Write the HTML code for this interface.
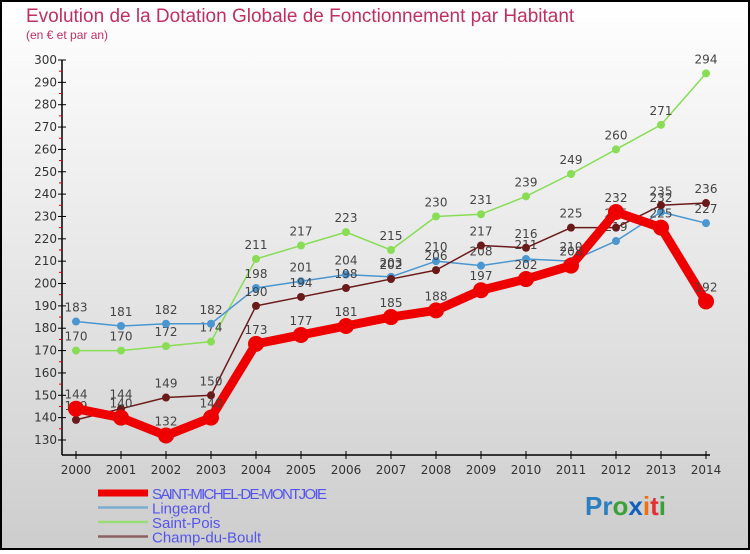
<!DOCTYPE html>
<html><head><meta charset="utf-8"><style>
html,body{margin:0;padding:0}
body{width:750px;height:550px;overflow:hidden;font-family:"DejaVu Sans","Liberation Sans",sans-serif}
</style></head><body>
<svg id="chart" width="750" height="550" xmlns="http://www.w3.org/2000/svg">
<defs><linearGradient id="bg" x1="0" y1="0" x2="0" y2="1"><stop offset="0" stop-color="#ffffff"/><stop offset="1" stop-color="#cdcdcd"/></linearGradient></defs>
<rect x="1" y="1" width="748" height="548" fill="url(#bg)" stroke="#000" stroke-width="2"/>
<text x="26" y="22" font-size="19" fill="#c0305e" font-family="Liberation Sans, sans-serif">Evolution de la Dotation Globale de Fonctionnement par Habitant</text>
<text x="26" y="39" font-size="12" fill="#c0305e" font-family="Liberation Sans, sans-serif">(en € et par an)</text>
<g id="axes"></g><g id="series"></g><g id="legend"></g>
<text x="585" y="515" font-size="26" font-weight="bold" font-family="Liberation Sans, sans-serif"><tspan fill="#2a7fc0">Pr</tspan><tspan fill="#3aa03a">o</tspan><tspan fill="#1060c0">x</tspan><tspan fill="#f07010">i</tspan><tspan fill="#e03030">t</tspan><tspan fill="#3aa03a">i</tspan></text>
</svg>
<script>
const years=["2000","2001","2002","2003","2004","2005","2006","2007","2008","2009","2010","2011","2012","2013","2014"];
const yTicks=[130,140,150,160,170,180,190,200,210,220,230,240,250,260,270,280,290,300];
const smm=[144,140,132,140,173,177,181,185,188,197,202,208,232,225,192];
const lingeard=[183,181,182,182,198,201,204,203,210,208,211,210,219,232,227];
const saintPois=[170,170,172,174,211,217,223,215,230,231,239,249,260,271,294];
const champ=[139,144,149,150,190,194,198,202,206,217,216,225,225,235,236];
const NS="http://www.w3.org/2000/svg";
function x(i){return 76+i*45;}
function y(v){return 440-(v-130)*380/170;}
function mk(t,a,p){const e=document.createElementNS(NS,t);for(const k in a)e.setAttribute(k,a[k]);p.appendChild(e);return e;}
const ax=document.getElementById('axes');
const yl=mk('line',{x1:62,y1:60,x2:62,y2:455,stroke:'#000','stroke-width':1.5},ax);


const xl=mk('line',{x1:62,y1:455,x2:710,y2:455,stroke:'#000','stroke-width':1.5},ax);


yTicks.forEach(v=>{
  mk('line',{x1:58,y1:y(v),x2:66,y2:y(v),stroke:'#000'},ax);
  if(v<300)mk('line',{x1:59,y1:y(v+5),x2:62,y2:y(v+5),stroke:'#e00000'},ax);
  const t=mk('text',{x:57,y:y(v)+4,'text-anchor':'end','font-size':12,fill:'#333'},ax);
  t.textContent=v;
  
  
});
years.forEach((yr,i)=>{
  mk('line',{x1:x(i),y1:451,x2:x(i),y2:459,stroke:'#000'},ax);
  const t=mk('text',{x:x(i),y:474,'text-anchor':'middle','font-size':12,fill:'#333'},ax);
  t.textContent=yr;
  
  
});
const sg=document.getElementById('series');
const defs=[
 {d:saintPois,c:'#88dd55',w:1.5,r:4,name:'saint-pois'},
 {d:lingeard,c:'#4a96d0',w:1.5,r:4,name:'lingeard'},
 {d:champ,c:'#6b1a1a',w:1.5,r:4,name:'champ-du-boult'},
 {d:smm,c:'#ee0000',w:9,r:8,name:'saint-michel-de-montjoie'}];
defs.forEach(s=>{
  const g=mk('g',{},sg);
  
  
  const pl=mk('polyline',{points:s.d.map((v,i)=>x(i)+','+y(v)).join(' '),fill:'none',stroke:s.c,'stroke-width':s.w,'stroke-linejoin':'round'},g);
  
  
  s.d.forEach((v,i)=>{
    const c=mk('circle',{cx:x(i),cy:y(v),r:s.r,fill:s.c},g);
    
    
    const t=mk('text',{x:x(i),y:y(v)-10,'text-anchor':'middle','font-size':12,fill:'#444'},g);
    t.textContent=v;
    
    
  });
});
const lg=document.getElementById('legend');
const leg=[['SAINT-MICHEL-DE-MONTJOIE','#ee0000',7],['Lingeard','#7aaed0',2.5],['Saint-Pois','#99dd77',2.5],['Champ-du-Boult','#8b6060',2.5]];
leg.forEach((l,i)=>{
  const g=mk('g',{},lg);
  
  
  const yy=493+i*14.5;
  mk('line',{x1:98,y1:yy,x2:148,y2:yy,stroke:l[1],'stroke-width':l[2]},g);
  const t=mk('text',{x:152,y:yy+6,'font-size':15,fill:'#5555ee','font-family':'Liberation Sans, sans-serif',textLength:i==0?175:undefined},g);
  if(i!=0)t.removeAttribute('textLength');
  t.textContent=l[0];
});
</script>
</body></html>
